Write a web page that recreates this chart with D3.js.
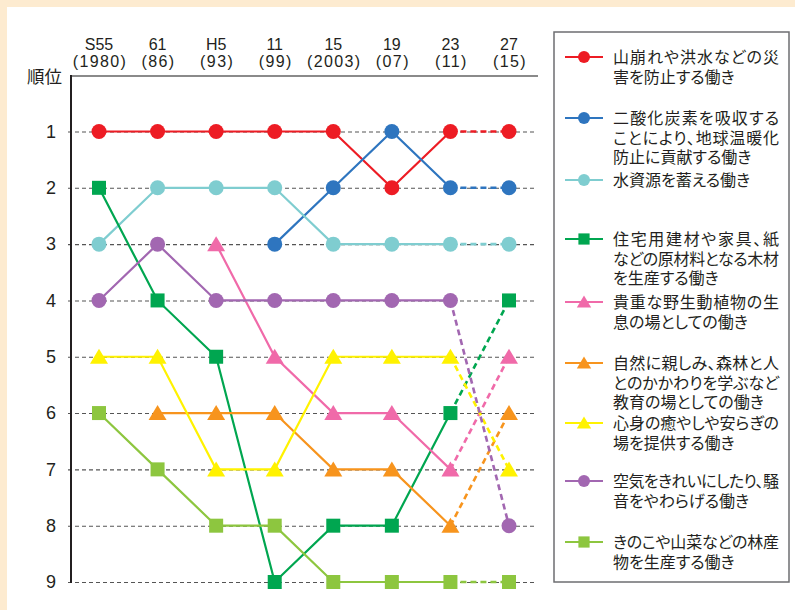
<!DOCTYPE html>
<html>
<head>
<meta charset="utf-8">
<script src="https://cdn.jsdelivr.net/npm/d3@7"></script>
<style>
  body { margin: 0; background: #fdebd0; }
  svg { display: block; }
  text { font-family: "Liberation Sans", Arial, "Noto Sans CJK JP", sans-serif; fill: #231f20; }
  .jp { font-family: "Noto Sans CJK JP", sans-serif; font-feature-settings: "palt"; }
</style>
</head>
<body>
<svg id="chart"></svg>
<script>
// survey years (two-line labels)
var years = ["S55", "61", "H5", "11", "15", "19", "23", "27"];
var yearsSub = ["(1980)", "(86)", "(93)", "(99)", "(2003)", "(07)", "(11)", "(15)"];
var ranks = [1, 2, 3, 4, 5, 6, 7, 8, 9];

// rank of each function per survey (null = not asked)
var rankDisaster = [1, 1, 1, 1, 1, 2, 1, 1];
var rankCarbon = [null, null, null, 3, 2, 1, 2, 2];
var rankWater = [3, 2, 2, 2, 3, 3, 3, 3];
var rankTimber = [2, 4, 5, 9, 8, 8, 6, 4];
var rankWildlife = [null, null, 3, 5, 6, 6, 7, 5];
var rankEducation = [null, 6, 6, 6, 7, 7, 8, 6];
var rankHealing = [5, 5, 7, 7, 5, 5, 5, 7];
var rankAir = [4, 3, 4, 4, 4, 4, 4, 8];
var rankForestProducts = [6, 7, 8, 8, 9, 9, 9, 9];

var series = [
  { name: ["山崩れや洪水などの災", "害を防止する働き"], values: rankDisaster, color: "#ed1c24", shape: "circle" },
  { name: ["二酸化炭素を吸収する", "ことにより、地球温暖化", "防止に貢献する働き"], values: rankCarbon, color: "#2e75bf", shape: "circle" },
  { name: ["水資源を蓄える働き"], values: rankWater, color: "#7fcdd0", shape: "circle" },
  { name: ["住宅用建材や家具、紙", "などの原材料となる木材", "を生産する働き"], values: rankTimber, color: "#00a650", shape: "square" },
  { name: ["貴重な野生動植物の生", "息の場としての働き"], values: rankWildlife, color: "#f06aa9", shape: "triangle" },
  { name: ["自然に親しみ、森林と人", "とのかかわりを学ぶなど", "教育の場としての働き"], values: rankEducation, color: "#f7941d", shape: "triangle" },
  { name: ["心身の癒やしや安らぎの", "場を提供する働き"], values: rankHealing, color: "#fff200", shape: "triangle" },
  { name: ["空気をきれいにしたり、騒", "音をやわらげる働き"], values: rankAir, color: "#a267b1", shape: "circle" },
  { name: ["きのこや山菜などの林産", "物を生産する働き"], values: rankForestProducts, color: "#8dc63f", shape: "square" }
];
var legendY = [57, 118, 180, 239, 302, 363, 423, 481, 542];

var width = 795, height = 610;
var svg = d3.select("#chart").attr("width", width).attr("height", height);

// white panel on cream background
svg.append("rect").attr("x", 7).attr("y", 7).attr("width", width - 7).attr("height", height - 7).attr("fill", "#fff");

var x = d3.scalePoint().domain(years).range([99, 509]);
var y = d3.scaleLinear().domain([1, 9]).range([131.5, 582]);
var axisX = 71, gridRight = 537;

// gridlines + rank labels
var yAxis = d3.axisLeft(y).tickValues(ranks).tickFormat(d3.format("d")).tickSizeOuter(0).tickPadding(9);
var gy = svg.append("g").attr("transform", "translate(" + axisX + ",0)").call(yAxis);
gy.select(".domain").remove();
gy.selectAll(".tick line")
  .attr("x1", -3).attr("x2", gridRight - axisX)
  .attr("stroke", "#555").attr("stroke-width", 1.1).attr("stroke-dasharray", "4,3");
gy.selectAll(".tick text").attr("font-size", 18).attr("fill", "#231f20")
  .style("font-family", "'Liberation Sans', Arial, sans-serif");

// top rule and left axis
svg.append("line").attr("x1", axisX).attr("x2", 538).attr("y1", 76).attr("y2", 76)
  .attr("stroke", "#8a8a8a").attr("stroke-width", 2);
svg.append("line").attr("x1", axisX).attr("x2", axisX).attr("y1", 75).attr("y2", 583)
  .attr("stroke", "#231f20").attr("stroke-width", 2);

svg.append("text").attr("class", "jp").attr("x", 62).attr("y", 83).attr("text-anchor", "end")
  .attr("font-size", 17.5).text("順位");

// year labels
var gx = svg.append("g");
gx.selectAll("text.yr").data(years).enter().append("text")
  .attr("x", function(d) { return x(d); }).attr("y", 50).attr("text-anchor", "middle")
  .attr("font-size", 16).text(function(d) { return d; });
gx.selectAll("text.sub").data(yearsSub).enter().append("text")
  .attr("x", function(d, i) { return x(years[i]) + 1; }).attr("y", 67).attr("text-anchor", "middle")
  .attr("font-size", 16).attr("letter-spacing", 1.4)
  .text(function(d) { return d; });

function drawMarker(g, shape, cx, cy, color, s) {
  if (shape == "circle") {
    g.append("circle").attr("cx", cx).attr("cy", cy).attr("r", 7.5 * s).attr("fill", color);
  } else if (shape == "square") {
    var h = 7 * s;
    g.append("rect").attr("x", cx - h).attr("y", cy - h).attr("width", 2 * h).attr("height", 2 * h).attr("fill", color);
  } else {
    var w = 9 * s, t = 8 * s;
    g.append("path").attr("d", "M" + cx + "," + (cy - t) + "L" + (cx + w) + "," + (cy + t - 1) + "L" + (cx - w) + "," + (cy + t - 1) + "Z")
      .attr("fill", color);
  }
}

var line = d3.line()
  .defined(function(d) { return d.v != null; })
  .x(function(d) { return x(d.year); })
  .y(function(d) { return y(d.v); });

var plot = svg.append("g");
series.forEach(function(s) {
  var pts = s.values.map(function(v, i) { return { year: years[i], v: v }; });
  plot.append("path").datum(pts.slice(0, 7)).attr("d", line)
    .attr("fill", "none").attr("stroke", s.color).attr("stroke-width", 2.2);
  // latest survey drawn dashed
  plot.append("path").datum(pts.slice(6)).attr("d", line)
    .attr("fill", "none").attr("stroke", s.color).attr("stroke-width", 2.6).attr("stroke-dasharray", "6,4");
});
series.forEach(function(s) {
  var g = plot.append("g");
  s.values.forEach(function(v, i) {
    if (v != null) drawMarker(g, s.shape, x(years[i]), y(v), s.color, 1);
  });
});

// legend
var lg = svg.append("g");
lg.append("rect").attr("x", 554).attr("y", 32).attr("width", 235).attr("height", 550)
  .attr("fill", "#fff").attr("stroke", "#6d6e71").attr("stroke-width", 1.5);
series.forEach(function(s, i) {
  var ly = legendY[i];
  lg.append("line").attr("x1", 565).attr("x2", 603).attr("y1", ly).attr("y2", ly)
    .attr("stroke", s.color).attr("stroke-width", 2);
  drawMarker(lg, s.shape, 584, ly, s.color, 0.8);
  var t = lg.append("text").attr("class", "jp").attr("x", 613).attr("y", ly + 6).attr("font-size", 16);
  s.name.forEach(function(n, j) {
    var ts = t.append("tspan").attr("x", 613).attr("dy", j == 0 ? 0 : 19.5).text(n);
    // wrapped lines are justified to the legend width
    if (j < s.name.length - 1) ts.attr("textLength", 166).attr("lengthAdjust", "spacing");
  });
});
</script>
</body>
</html>
